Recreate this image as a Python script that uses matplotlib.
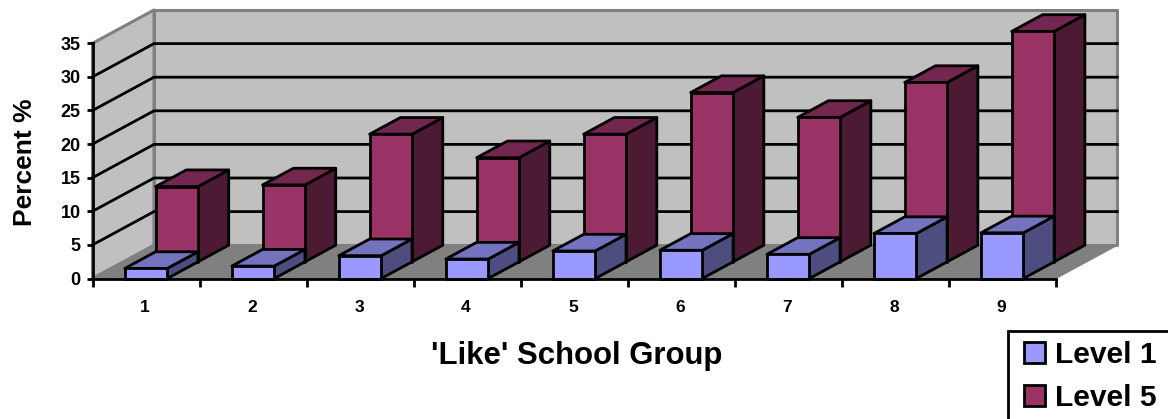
# -*- coding: utf-8 -*-
import numpy as np
import matplotlib.pyplot as plt
from matplotlib.patches import Polygon, Rectangle, Patch

plt.rcParams['font.family'] = ['Liberation Sans', 'DejaVu Sans']
plt.rcParams['font.weight'] = 'bold'

groups = ['1', '2', '3', '4', '5', '6', '7', '8', '9']
level1 = [1.5, 1.85, 3.4, 2.9, 4.1, 4.2, 3.6, 6.7, 6.8]
level5 = [11.2, 11.45, 19.0, 15.5, 19.0, 25.2, 21.5, 26.7, 34.3]

W, H = 1168, 419

# colours: front, top, side
blue = ('#9999FF', '#7373BF', '#4D4D80')
plum = ('#993366', '#732650', '#4D1A33')
wall = '#C0C0C0'
floor = '#808080'

# oblique depth offset, in data units for z = 1
DX = 61.5 / 107
DY = 33.3 / 6.72
BAR_W = 0.396
LW = 2.0


def proj(x, v, z):
    return (x + z * DX, v + z * DY)


def poly(ax, pts, color, edge='black', lw=LW, zo=3):
    ax.add_patch(Polygon(pts, closed=True, facecolor=color, edgecolor=edge,
                         linewidth=lw, joinstyle='round', clip_on=False, zorder=zo))


def box(ax, i, val, z0, z1, cols, zo):
    x0 = i + (1 - BAR_W) / 2
    x1 = x0 + BAR_W
    # side, top, then front face
    poly(ax, [proj(x1, 0, z0), proj(x1, 0, z1), proj(x1, val, z1), proj(x1, val, z0)], cols[2], zo=zo)
    poly(ax, [proj(x0, val, z0), proj(x1, val, z0), proj(x1, val, z1), proj(x0, val, z1)], cols[1], zo=zo)
    poly(ax, [proj(x0, 0, z0), proj(x1, 0, z0), proj(x1, val, z0), proj(x0, val, z0)], cols[0], zo=zo)


fig = plt.figure(figsize=(W / 100, H / 100), dpi=100)
ax = fig.add_axes([92.5 / W, 1 - 278.5 / H, (1055.7 - 92.5) / W, (278.5 - 43.3) / H])
ax.set_xlim(0, 9)
ax.set_ylim(0, 35)
ax.patch.set_visible(False)

n = len(groups)
# back wall, side wall, floor
poly(ax, [proj(0, 0, 1), proj(n, 0, 1), proj(n, 35, 1), proj(0, 35, 1)], wall, edge=floor, lw=2.2, zo=1)
poly(ax, [proj(0, 0, 0), proj(0, 0, 1), proj(0, 35, 1), proj(0, 35, 0)], wall, edge=floor, lw=2.2, zo=1)
poly(ax, [proj(0, 0, 0), proj(n, 0, 0), proj(n, 0, 1), proj(0, 0, 1)], floor, edge=floor, lw=1, zo=1)

# gridlines run along the side wall and across the back
for v in range(5, 35, 5):
    px, py = zip(proj(0, v, 0), proj(0, v, 1), proj(n, v, 1))
    ax.plot(px, py, color='black', lw=LW, clip_on=False, zorder=2, solid_joinstyle='miter')

for i in range(n):
    box(ax, i, level5[i], 0.5, 1.0, plum, 3 + i * 0.01)
    box(ax, i, level1[i], 0.0, 0.5, blue, 4 + i * 0.01)

for s in ['top', 'right']:
    ax.spines[s].set_visible(False)
for s in ['left', 'bottom']:
    ax.spines[s].set_linewidth(LW)
    ax.spines[s].set_zorder(5)

ax.set_yticks(np.arange(0, 40, 5))
ax.tick_params(axis='y', length=4.5, width=LW, labelsize=13, pad=4)
ax.set_xticks(np.arange(0, n + 1))
ax.set_xticklabels([])
ax.tick_params(axis='x', which='major', length=6, width=LW)
ax.set_xticks(np.arange(n) - 0.01 + 0.5, minor=True)
ax.set_xticklabels(groups, minor=True)
ax.tick_params(axis='x', which='minor', length=0, labelsize=12.5, pad=15.2)

ax.set_xlabel("'Like' School Group", fontsize=22.4, fontweight='bold')
ax.xaxis.set_label_coords((577 - 92.5) / (1055.7 - 92.5), (278.5 - 356) / (278.5 - 43.3))
ax.xaxis.label.set_va('center')
ax.set_ylabel('Percent %', fontsize=19, fontweight='bold')
ax.yaxis.set_label_coords((25 - 92.5) / (1055.7 - 92.5), (278.5 - 162) / (278.5 - 43.3))
ax.yaxis.label.set_va('center')

# legend box runs off the edge of the figure
fig.add_artist(Rectangle((1008 / W, -0.05), 0.2, 1 - 331 / H + 0.05, transform=fig.transFigure,
                         facecolor='white', edgecolor='black', linewidth=LW))
handles = [Patch(facecolor=blue[0], edgecolor='black', linewidth=LW, label='Level 1'),
           Patch(facecolor=plum[0], edgecolor='black', linewidth=LW, label='Level 5')]
fig.legend(handles=handles, loc='upper left', bbox_to_anchor=(1024 / W, 1 - 341 / H),
           frameon=False, fontsize=21.6, handlelength=0.7, handleheight=0.7,
           handletextpad=0.33, labelspacing=0.5, borderpad=0, borderaxespad=0)

fig.savefig('out.png', dpi=100)
